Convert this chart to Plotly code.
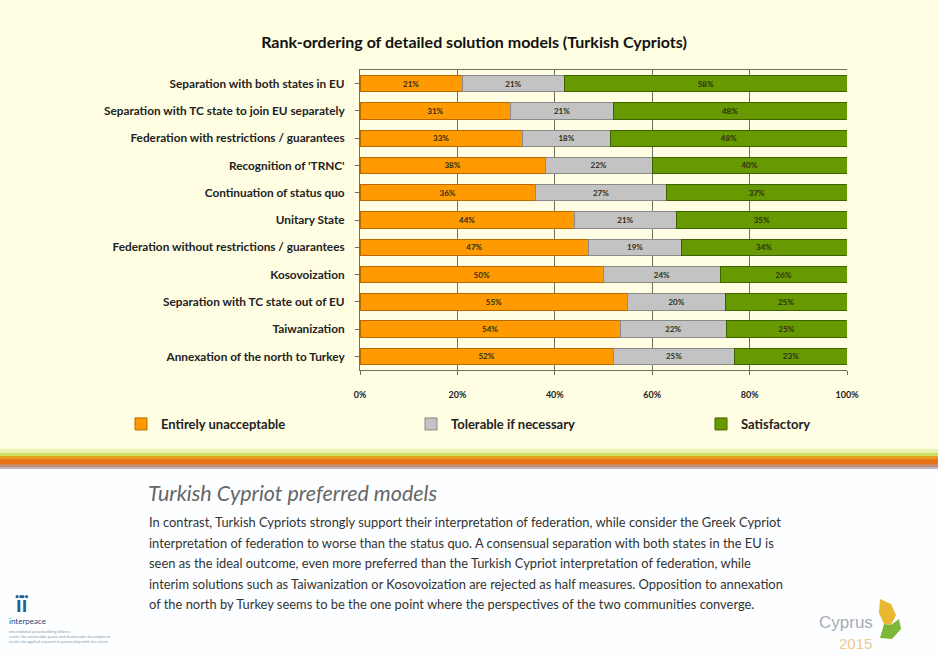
import plotly.graph_objects as go

categories = [
    "Separation with both states in EU",
    "Separation with TC state to join EU separately",
    "Federation with restrictions / guarantees",
    "Recognition of 'TRNC'",
    "Continuation of status quo",
    "Unitary State",
    "Federation without restrictions / guarantees",
    "Kosovoization",
    "Separation with TC state out of EU",
    "Taiwanization",
    "Annexation of the north to Turkey",
]
unacceptable = [21, 31, 33, 38, 36, 44, 47, 50, 55, 54, 52]
tolerable = [21, 21, 18, 22, 27, 21, 19, 24, 20, 22, 25]
satisfactory = [58, 48, 48, 40, 37, 35, 34, 26, 25, 25, 23]
series_names = ["Entirely unacceptable", "Tolerable if necessary", "Satisfactory"]
x_ticks = [0, 20, 40, 60, 80, 100]
x_tick_labels = ["0%", "20%", "40%", "60%", "80%", "100%"]

title_text = "Rank-ordering of detailed solution models (Turkish Cypriots)"
heading_text = "Turkish Cypriot preferred models"
paragraph_lines = [
    "In contrast, Turkish Cypriots strongly support their interpretation of federation, while consider the Greek Cypriot",
    "interpretation of federation to worse than the status quo. A consensual separation with both states in the EU is",
    "seen as the ideal outcome, even more preferred than the Turkish Cypriot interpretation of federation, while",
    "interim solutions such as Taiwanization or Kosovoization are rejected as half measures. Opposition to annexation",
    "of the north by Turkey seems to be the one point where the perspectives of the two communities converge.",
]

W, H = 938, 659
L, R, T, B = 360, 847, 70, 370
FONT = "Lato"


def fx(p):
    return (p - L) / (R - L)


def fy(p):
    return (B - p) / (B - T)


fills = ["#FF9A00", "#C3C3C3", "#669A00"]
edges = ["#B86A00", "#8A8A8A", "#3F6200"]
values = [unacceptable, tolerable, satisfactory]
legend_ids = ["legend2", "legend3", "legend4"]
legend_x = [121, 411, 701]

fig = go.Figure()
for name, vals, fc, ec, lg in zip(series_names, values, fills, edges, legend_ids):
    fig.add_trace(go.Bar(
        y=categories, x=vals, name=name, orientation="h",
        marker=dict(color=fc, line=dict(color=ec, width=1)),
        text=[f"{v}%" for v in vals], textposition="inside",
        insidetextanchor="middle",
        textfont=dict(family=FONT, size=8, color="#2e2e14", weight="bold"),
        hoverinfo="text+y+name", legend=lg, showlegend=True,
    ))


def rect_px(x0, y0, x1, y1, color):
    return dict(type="rect", xref="paper", yref="paper",
                x0=fx(x0), x1=fx(x1), y0=fy(y1), y1=fy(y0),
                fillcolor=color, line=dict(width=0), layer="below")


def path_px(points, color):
    d = "M " + " L ".join(f"{fx(px):.4f},{fy(py):.4f}" for px, py in points) + " Z"
    return dict(type="path", xref="paper", yref="paper", path=d,
                fillcolor=color, line=dict(width=0), layer="above")


shapes = [
    rect_px(0, 0, W, 452, "#FFFDE2"),
    rect_px(0, 449, W, 453, "#E9F4B0"),
    rect_px(0, 453, W, 456, "#CFE060"),
    rect_px(0, 456, W, 459, "#E8A020"),
    rect_px(0, 459, W, 464, "#E8731A"),
    rect_px(0, 464, W, 467, "#C98A6C"),
    rect_px(0, 467, W, 469, "#BDB6C0"),
    rect_px(0, 469, W, H, "#FCFEFF"),
    # Cyprus 2015 leaf logo
    path_px([(880, 599), (891, 604), (896, 615), (891, 625), (884, 624), (879, 613)], "#E8B830"),
    path_px([(884, 624), (891, 625), (899, 619), (901, 629), (892, 639), (880, 638)], "#7DB83A"),
]

annotations = [
    dict(xref="paper", yref="paper", x=fx(146), y=fy(493),
         xanchor="left", yanchor="middle",
         text=f"<i>{heading_text}</i>", showarrow=False,
         font=dict(family=FONT, size=21.5, color="#666666")),
]
line_y = [522, 542.5, 563, 583.5, 604]
for txt, yy in zip(paragraph_lines, line_y):
    annotations.append(dict(
        xref="paper", yref="paper", x=fx(147), y=fy(yy),
        xanchor="left", yanchor="middle", text=txt, showarrow=False,
        font=dict(family=FONT, size=12.9, color="#333333")))

annotations += [
    dict(xref="paper", yref="paper", x=fx(22), y=fy(603),
         xanchor="center", yanchor="middle",
         text="<b>ïï</b>", showarrow=False,
         font=dict(family=FONT, size=22, color="#2a5b8c")),
    dict(xref="paper", yref="paper", x=fx(7), y=fy(621),
         xanchor="left", yanchor="middle",
         text="interpeace", showarrow=False,
         font=dict(family=FONT, size=8, color="#2a4a7a")),
    dict(xref="paper", yref="paper", x=fx(7), y=fy(636),
         xanchor="left", yanchor="middle",
         text="international peacebuilding alliance<br>centre for sustainable peace and democratic development<br>centre for applied research in partnership with the orient",
         showarrow=False, align="left",
         font=dict(family=FONT, size=4, color="#8a9ab0")),
    dict(xref="paper", yref="paper", x=fx(817), y=fy(622),
         xanchor="left", yanchor="middle",
         text="Cyprus", showarrow=False,
         font=dict(family="Liberation Sans", size=17, color="#a8acb4")),
    dict(xref="paper", yref="paper", x=fx(837), y=fy(643),
         xanchor="left", yanchor="middle",
         text="2015", showarrow=False,
         font=dict(family="Liberation Sans", size=15, color="#f0c890")),
]

legend_common = dict(orientation="h", yanchor="middle", y=fy(424),
                     xanchor="left", bgcolor="rgba(0,0,0,0)",
                     font=dict(family=FONT, size=13, color="#222222", weight="bold"),
                     itemwidth=30, visible=True)

fig.update_layout(
    width=W, height=H,
    margin=dict(l=L, r=W - R, t=T, b=H - B, pad=0),
    paper_bgcolor="#FCFEFF",
    plot_bgcolor="rgba(0,0,0,0)",
    barmode="stack",
    barnorm="percent",
    bargap=0.4,
    showlegend=True,
    font=dict(family=FONT, color="#222222"),
    title=dict(text=f"<b>{title_text}</b>", x=474 / W, xanchor="center",
               y=1 - 42 / H, yanchor="middle",
               font=dict(family=FONT, size=16, color="#111111")),
    xaxis=dict(range=[0, 100], tickvals=x_ticks, ticktext=x_tick_labels,
               showgrid=True, gridcolor="#6f6f5f", gridwidth=1,
               showline=True, linecolor="#6f6f5f", mirror=True,
               ticks="outside", ticklen=4, tickcolor="#6f6f5f",
               ticklabelstandoff=12,
               tickfont=dict(family=FONT, size=9, color="#222222", weight="bold"),
               zeroline=False, fixedrange=True),
    yaxis=dict(autorange="reversed", showline=True, linecolor="#6f6f5f",
               ticks="outside", ticklen=4, tickcolor="#6f6f5f",
               tickfont=dict(family=FONT, size=11.8, color="#222222", weight="bold"),
               ticklabelstandoff=8, fixedrange=True),
    legend2=dict(legend_common, x=fx(legend_x[0])),
    legend3=dict(legend_common, x=fx(legend_x[1])),
    legend4=dict(legend_common, x=fx(legend_x[2])),
    shapes=shapes,
    annotations=annotations,
)

fig.write_html("out.html", config={"displayModeBar": False},
               post_script="document.body.style.margin='0';")
